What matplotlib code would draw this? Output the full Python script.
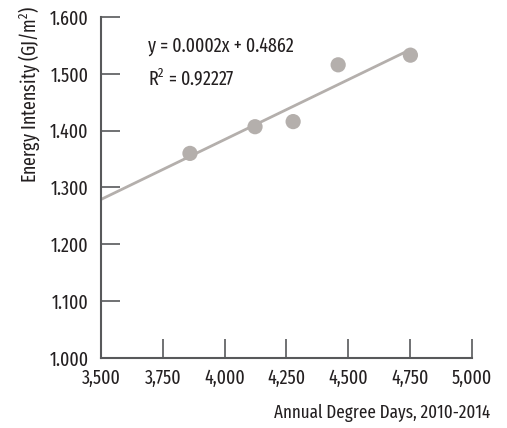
import matplotlib.pyplot as plt
import numpy as np

plt.rcParams['font.family'] = ['Fira Sans Extra Condensed', 'DejaVu Sans']
plt.rcParams['mathtext.fontset'] = 'custom'
plt.rcParams['mathtext.rm'] = 'Fira Sans Extra Condensed'

# annual degree days vs energy intensity, one point per year 2010-2014
degree_days = [3860, 4123, 4277, 4459, 4751]
intensity = [1.360, 1.407, 1.416, 1.516, 1.533]

x_ticks = [3500, 3750, 4000, 4250, 4500, 4750, 5000]
y_ticks = [1.0, 1.1, 1.2, 1.3, 1.4, 1.5, 1.6]

fit_text = "y = 0.0002x + 0.4862"
r2_text = "R$^2$ = 0.92227"

point_color = '#b4afac'
axis_color = '#58595b'
text_color = '#231f20'

fig = plt.figure(figsize=(5.07, 4.28), dpi=100)
ax = fig.add_axes([0.199, 0.164, 0.732, 0.796])

# linear trend line, from the left edge of the axis to the last point
slope, intercept = np.polyfit(degree_days, intensity, 1)
xs = np.array([x_ticks[0], max(degree_days)])
ax.plot(xs, slope * xs + intercept, color=point_color, lw=2, zorder=2)
ax.scatter(degree_days, intensity, s=120, color=point_color, edgecolors='none', zorder=3)

ax.set_xlim(x_ticks[0], x_ticks[-1])
ax.set_ylim(y_ticks[0], y_ticks[-1])
ax.set_xticks(x_ticks)
ax.set_xticklabels([f"{v:,}" for v in x_ticks])
ax.set_yticks(y_ticks)
ax.set_yticklabels([f"{v:.3f}" for v in y_ticks])

for side in ['top', 'right']:
    ax.spines[side].set_visible(False)
for side in ['left', 'bottom']:
    ax.spines[side].set_color(axis_color)
    ax.spines[side].set_linewidth(1.5)

ax.tick_params(axis='both', direction='in', length=14, width=1.2, color=axis_color,
               labelsize=14, labelcolor=text_color)
ax.tick_params(axis='x', pad=8)
ax.tick_params(axis='y', pad=9)

ax.text(0.128, 0.915, fit_text, transform=ax.transAxes, fontsize=14, color=text_color,
        va='center')
ax.text(0.128, 0.82, r2_text, transform=ax.transAxes, fontsize=14, color=text_color,
        va='center')

fig.text(0.966, 0.035, "Annual Degree Days, 2010-2014", ha='right', va='center',
         fontsize=13.3, color=text_color)
fig.text(0.058, 0.78, "Energy Intensity (GJ/m$^2$)", rotation=90, ha='center', va='center',
         fontsize=14, color=text_color)

fig.savefig('out.png', dpi=100)
